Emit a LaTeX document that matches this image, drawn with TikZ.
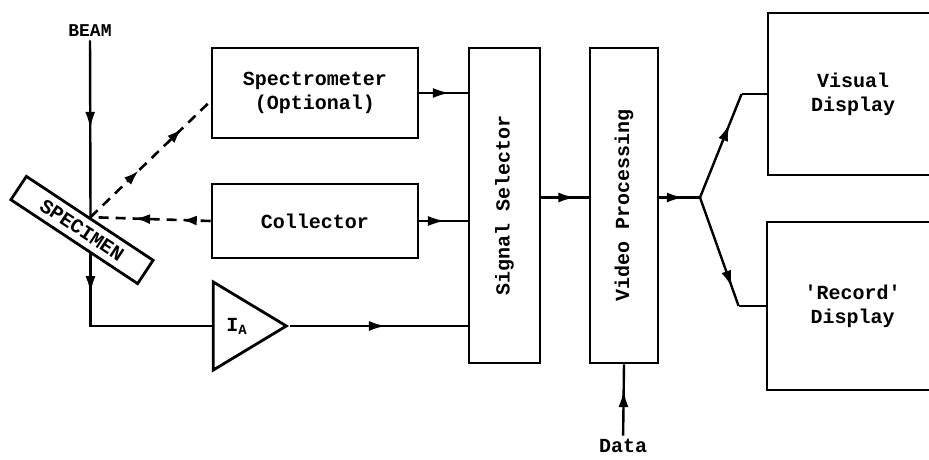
\documentclass[tikz,border=0pt]{standalone}
\usepackage{fontspec}
\usepackage{graphicx}
\setmonofont{Liberation Mono}
\usetikzlibrary{arrows.meta,positioning,calc,shapes.geometric,decorations.markings,backgrounds}
\tikzset{
  doboz/.style={draw,line width=2.8pt,inner sep=2pt,align=center},
  vonal/.style={line width=2.4pt},
  szagg/.style={line width=2.6pt,dash pattern=on 10pt off 7pt},
  nyilat/.style={postaction={decorate},decoration={markings,
                 mark=at position #1 with {\arrow{Latex[length=17pt,width=10pt]}}}},
  ketnyil/.style 2 args={postaction={decorate},decoration={markings,
                 mark=at position #1 with {\arrow{Latex[length=15pt,width=10pt]}},
                 mark=at position #2 with {\arrow{Latex[length=15pt,width=10pt]}}}},
}
\begin{document}
\begin{tikzpicture}[x=1pt,y=-1pt,font=\ttfamily\bfseries\fontsize{20}{24}\selectfont]
  \useasboundingbox (0,0) rectangle (929,460);
  \clip (0,0) rectangle (929,460);
  % minta es detektorok
  \node[font=\ttfamily\bfseries\fontsize{18}{20}\selectfont] (beam) at (90,31) {BEAM};
  \node[doboz,fill=white,rotate=-33.5,minimum width=152pt,minimum height=28pt] (spec) at (82,230) {SPECIMEN};
  \node[doboz,minimum width=206pt,minimum height=90pt] (spm) at (315,93) {Spectrometer\\(Optional)};
  \node[doboz,minimum width=206pt,minimum height=74pt] (col) at (315,221) {Collector};
  \node[draw,line width=2.8pt,isosceles triangle,isosceles triangle stretches,
        minimum height=73pt,minimum width=88pt,inner sep=0pt,anchor=apex] (amp) at (290,326) {I\textsubscript{A}};
  % feldolgozas
  \node[doboz,minimum width=71pt,minimum height=315pt] (sel) at (504.5,205.5) {\rotatebox{90}{Signal Selector}};
  \node[doboz,minimum width=68pt,minimum height=315pt] (vid) at (624,205.5) {\rotatebox{90}{Video Processing}};
  \node (data) at (623,446) {Data};
  % kijelzok
  \node[doboz,minimum width=170pt,minimum height=162pt] (vis) at (853,94) {Visual\\Display};
  \node[doboz,minimum width=171pt,minimum height=168pt] (rec) at (852.5,306) {'Record'\\Display};
  \coordinate (elag) at (700,197.5);
  \coordinate (ftores) at ($(vis.west)+(-25,0)$);
  \coordinate (atores) at ($(rec.west)+(-27,0)$);

  \draw[vonal,nyilat=0.5] (beam) -- (spec.north);
  \begin{scope}[on background layer]
    \draw[vonal,nyilat=0.33] (spec.north) |- (amp.west);
  \end{scope}
  \draw[szagg,ketnyil={0.4}{0.76}] (spec.north) -- ([yshift=-8pt]spm.west);
  \draw[szagg,ketnyil={0.24}{0.63}] (col.west) -- (spec.north);
  \draw[vonal,nyilat=0.63] (spm.east) -- (spm.east -| sel.west);
  \draw[vonal,nyilat=0.53] (col.east) -- (col.east -| sel.west);
  \draw[vonal,nyilat=0.54] (amp.apex) -- (amp.apex -| sel.west);
  \draw[vonal,nyilat=0.72] ([yshift=8pt]sel.east) -- ([yshift=8pt]sel.east -| vid.west);
  \draw[vonal,nyilat=0.64] (data) -- (vid.south);
  \draw[vonal,nyilat=0.6] ([yshift=8pt]vid.east) -- (elag);
  \draw[vonal,nyilat=0.71] (elag) -- (ftores);
  \draw[vonal] (ftores) -- (vis.west);
  \draw[vonal,nyilat=0.83] (elag) -- (atores);
  \draw[vonal] (atores) -- (rec.west);
\end{tikzpicture}
\end{document}
